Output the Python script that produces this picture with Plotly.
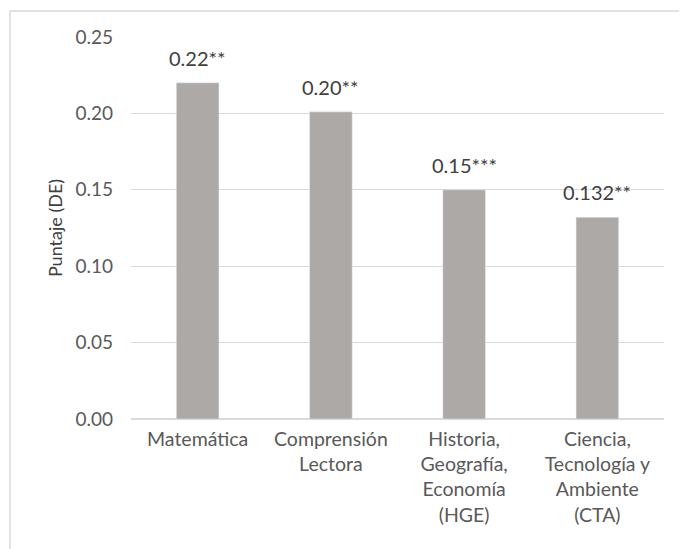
import plotly.graph_objects as go

# Datos
materias = ["Matemática", "Comprensión<br>Lectora", "Historia,<br>Geografía,<br>Economía<br>(HGE)",
            "Ciencia,<br>Tecnología y<br>Ambiente<br>(CTA)"]
puntaje = [0.22, 0.201, 0.15, 0.132]
etiquetas = ["0.22**", "0.20**", "0.15***", "0.132**"]
y_ticks = [0.00, 0.05, 0.10, 0.15, 0.20, 0.25]

fig = go.Figure([go.Bar(x=materias, y=puntaje, marker_color="#ADA9A7", width=0.32)])

# Etiquetas sobre las barras
for m, v, t in zip(materias, puntaje, etiquetas):
    fig.add_annotation(x=m, y=v, text=t, showarrow=False, yanchor="bottom", yshift=11,
                       font=dict(size=20, color="#404040"))

fig.update_layout(
    width=679, height=541,
    margin=dict(l=123, r=23, t=29, b=130),
    plot_bgcolor="white", paper_bgcolor="white",
    font=dict(family="Lato, Open Sans, sans-serif", color="#595959", size=19),
    showlegend=False,
    yaxis=dict(
        range=[0, 0.25], tickvals=y_ticks, tickformat=".2f",
        gridcolor="#D9D9D9", zeroline=True, zerolinecolor="#D9D9D9",
        ticks="", showline=False, ticklabelstandoff=17,
        title=dict(text="Puntaje (DE)", font=dict(size=18, color="#404040"), standoff=8),
    ),
    xaxis=dict(showline=False, ticks="", tickfont=dict(size=19.5), ticklabelstandoff=6),
    shapes=[
        dict(type="line", xref="paper", yref="paper", x0=-0.227, x1=-0.227, y0=1.068, y1=-0.5,
             line=dict(color="#D9D9D9", width=1.5)),
        dict(type="line", xref="paper", yref="paper", x0=-0.227, x1=1.2, y0=1.068, y1=1.068,
             line=dict(color="#D9D9D9", width=1.5)),
    ],
)

fig.write_html("out.html")
